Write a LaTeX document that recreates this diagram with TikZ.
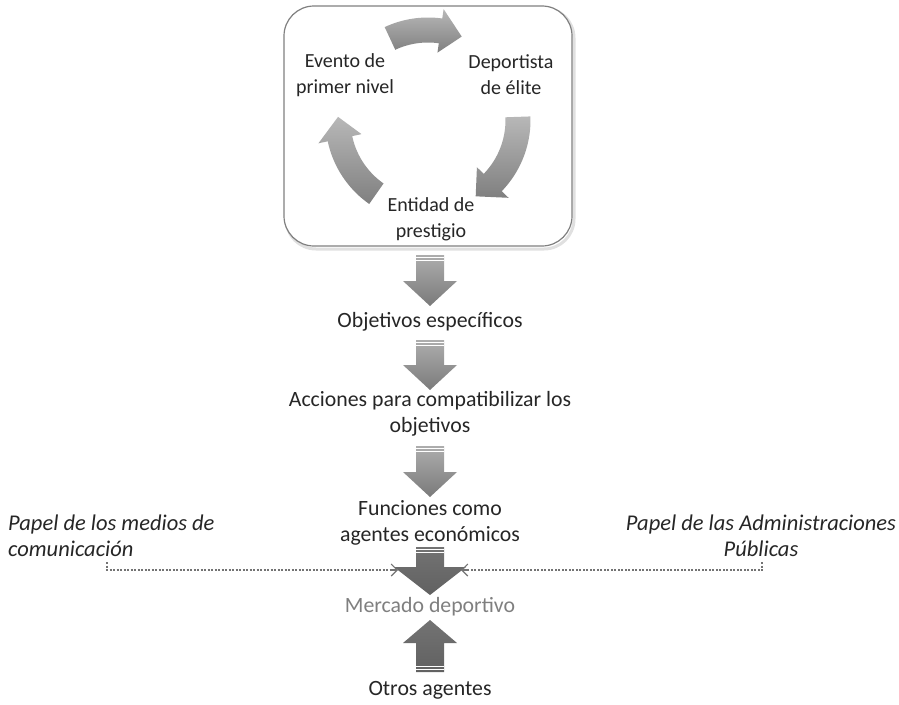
\documentclass[tikz,border=0pt]{standalone}
\usepackage{fontspec}
\setmainfont{Carlito}
\usetikzlibrary{arrows.meta}
\definecolor{txt}{HTML}{262626}
\definecolor{mgray}{HTML}{7F7F7F}
\newcommand\cycarrow[3]{%
  \shade[cycfill] plot[domain=#1:#2,samples=30] ({428+102.5*cos(\x)},{120-102.5*sin(\x)})
    -- ({428+112*cos(#2)},{120-112*sin(#2)})
    -- ({428+90*cos(#3)},{120-90*sin(#3)})
    -- ({428+68*cos(#2)},{120-68*sin(#2)})
    -- plot[domain=#2:#1,samples=30] ({428+77.5*cos(\x)},{120-77.5*sin(\x)})
    -- cycle;}
\newcommand\fatdown[6]{% xc, top, tip, style, head half width, head length
  \shade[#4] ({#1-14},#2) -- ({#1+14},#2) -- ({#1+14},{#3-#6}) -- ({#1+#5},{#3-#6})
    -- (#1,#3) -- ({#1-#5},{#3-#6}) -- ({#1-14},{#3-#6}) -- cycle;
  \draw[white,line width=0.9pt] ({#1-14},{#2+2.5}) -- ({#1+14},{#2+2.5});
  \draw[white,line width=0.9pt] ({#1-14},{#2+5.5}) -- ({#1+14},{#2+5.5});}
\newcommand\fatup[6]{% xc, bottom, tip, style, head half width, head length
  \shade[#4] ({#1-14},#2) -- ({#1+14},#2) -- ({#1+14},{#3+#6}) -- ({#1+#5},{#3+#6})
    -- (#1,#3) -- ({#1-#5},{#3+#6}) -- ({#1-14},{#3+#6}) -- cycle;
  \draw[white,line width=0.9pt] ({#1-14},{#2-2.5}) -- ({#1+14},{#2-2.5});
  \draw[white,line width=0.9pt] ({#1-14},{#2-5.5}) -- ({#1+14},{#2-5.5});}
\begin{document}
\begin{tikzpicture}[x=1pt,y=-1pt,
  clbl/.style={text=txt,font=\fontsize{20}{26}\selectfont,align=center,inner sep=0pt},
  lbl/.style={text=txt,font=\fontsize{21.8}{26.5}\selectfont,align=center,inner sep=0pt},
  ital/.style={text=txt,font=\fontsize{22.5}{26.5}\selectfont\itshape,inner sep=0pt},
  cycfill/.style={top color=black!28,bottom color=black!50},
  lightarrow/.style={top color=black!32,bottom color=black!52},
  darkarrow/.style={top color=black!55,bottom color=black!62},
  dotline/.style={draw=black!55,line width=1.1pt,dash pattern=on 2pt off 1.5pt},
  tip/.style={-{Straight Barb[length=6pt,width=12pt]}}]
\useasboundingbox (0,0) rectangle (899,704);
% cycle box
\draw[black!12,line width=3pt,rounded corners=30pt] (286,8) rectangle (574,249);
\draw[fill=white,draw=black!50,line width=1.2pt,rounded corners=30pt] (284,6) rectangle (572,246);
\cycarrow{115}{82}{68}
\cycarrow{2}{-44}{-58}
\cycarrow{235}{192}{178}
\node[clbl] (ev) at (345,75) {Evento de\\primer nivel};
\node[clbl] (dep) at (511,75) {Deportista\\de élite};
\node[clbl] (ent) at (431,219) {Entidad de\\prestigio};
% main chain
\fatdown{430}{255}{306}{lightarrow}{27}{25}
\node[lbl] (obj) at (430,322) {Objetivos específicos};
\fatdown{430}{340}{390}{lightarrow}{27}{25}
\node[lbl] (acc) at (430,414) {Acciones para compatibilizar los\\objetivos};
\fatdown{430}{446}{497}{lightarrow}{27}{25}
\node[lbl] (fun) at (430,523) {Funciones como\\agentes económicos};
\fatdown{430}{547}{595}{darkarrow}{36}{28}
\node[lbl,text=mgray] (mer) at (430,607) {Mercado deportivo};
\fatup{430}{672}{620}{darkarrow}{27}{23}
\node[lbl] (otr) at (430,690) {Otros agentes};
% side texts
\node[ital,anchor=west,align=left] (med) at (8,536) {Papel de los medios de\\comunicación};
\node[ital,align=center] (adm) at (761,536) {Papel de las Administraciones\\Públicas};
\coordinate (lt) at (107,562);
\coordinate (lc) at (107,570);
\coordinate (le) at (398,570);
\coordinate (rt) at (762,562);
\coordinate (rc) at (762,570);
\coordinate (re) at (461,570);
\draw[dotline] (lt) -- (lc) -- ([xshift=-4pt]le);
\draw[draw=black!55,line width=1.1pt,tip] ([xshift=-6pt]le) -- (le);
\draw[dotline] (rt) -- (rc) -- ([xshift=4pt]re);
\draw[draw=black!55,line width=1.1pt,tip] ([xshift=6pt]re) -- (re);
\end{tikzpicture}
\end{document}
